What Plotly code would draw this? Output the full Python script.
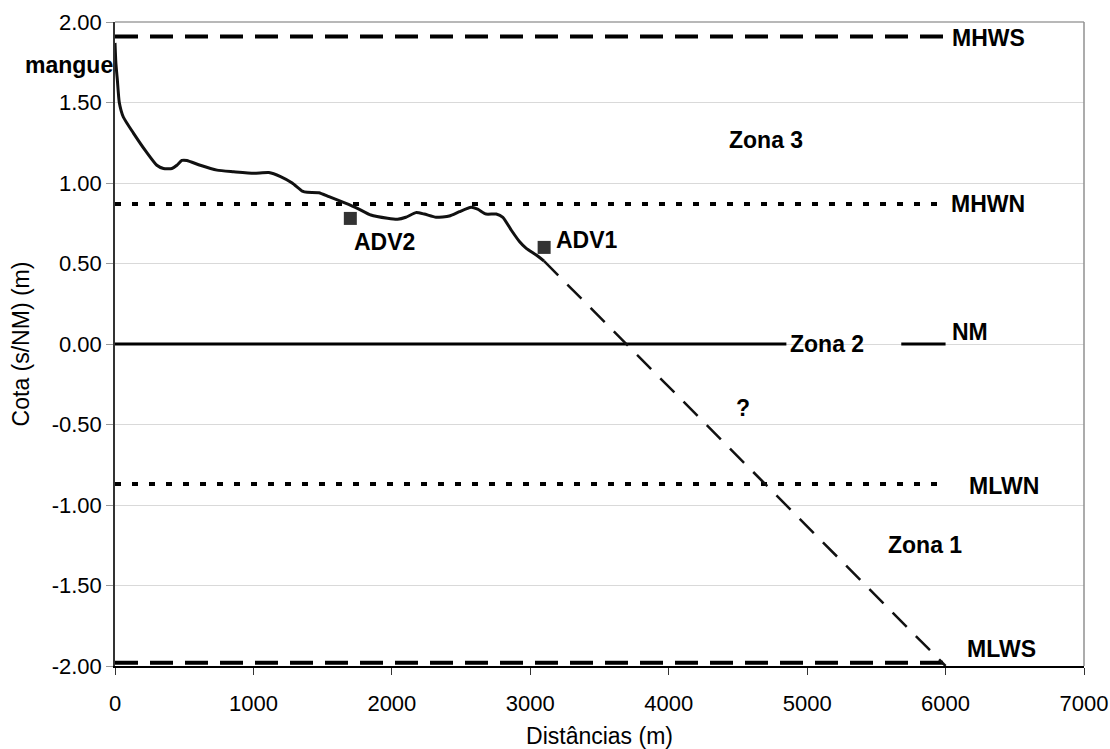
import plotly.graph_objects as go

# ---- data ----
profile_x = [0, 6, 17, 31, 60, 133, 229, 302, 350, 411, 447, 483, 519, 616, 737, 857,
             1002, 1111, 1196, 1280, 1353, 1389, 1473, 1546, 1655, 1751, 1848, 1969,
             2041, 2101, 2174, 2234, 2319, 2415, 2488, 2572, 2620, 2681, 2754, 2802,
             2862, 2923, 2971, 3043, 3100]
profile_y = [1.87, 1.75, 1.64, 1.50, 1.41, 1.31, 1.19, 1.11, 1.09, 1.09, 1.11, 1.14,
             1.14, 1.11, 1.08, 1.07, 1.06, 1.065, 1.04, 1.00, 0.95, 0.942, 0.94, 0.915,
             0.878, 0.843, 0.801, 0.781, 0.775, 0.787, 0.816, 0.807, 0.787, 0.795, 0.822,
             0.849, 0.837, 0.807, 0.807, 0.787, 0.708, 0.635, 0.594, 0.553, 0.515]

extrap_x = [3100, 6000]
extrap_y = [0.515, -2.0]

level_names = ["MHWS", "MHWN", "NM", "MLWN", "MLWS"]
level_values = [1.91, 0.87, 0.0, -0.87, -1.98]
level_start = 0
level_end = 6000
nm_gap = [4850, 5680]

adv_names = ["ADV2", "ADV1"]
adv_x = [1700, 3100]
adv_y = [0.78, 0.60]

level_label_x = [6310, 6310, 6175, 6420, 6405]
level_label_y = [1.90, 0.87, 0.075, -0.885, -1.895]

zone_names = ["Zona 3", "Zona 2", "Zona 1", "?", "mangue"]
zone_x = [4700, 5140, 5850, 4540, 0]
zone_y = [1.27, 0.0, -1.25, -0.40, 1.733]

adv_label_x = [1710, 3170]
adv_label_y = [0.635, 0.645]

y_ticks = [2.0, 1.5, 1.0, 0.5, 0.0, -0.5, -1.0, -1.5, -2.0]
y_ticktext = ["2.00", "1.50", "1.00", "0.50", "0.00", "-0.50", "-1.00", "-1.50", "-2.00"]
x_ticks = [0, 1000, 2000, 3000, 4000, 5000, 6000, 7000]

FONT = "Arial, Liberation Sans, sans-serif"
FS = 22
FL = 23

fig = go.Figure()

styles = {
    "MHWS": dict(width=4, dash="23px,12px"),
    "MHWN": dict(width=4, dash="6px,11px"),
    "NM": dict(width=3, dash="solid"),
    "MLWN": dict(width=4, dash="6px,11px"),
    "MLWS": dict(width=4, dash="23px,12px"),
}

for name, val in zip(level_names, level_values):
    if name == "NM":
        xs = [level_start, nm_gap[0], None, nm_gap[1], level_end]
        ys = [val, val, None, val, val]
    else:
        xs = [level_start, level_end]
        ys = [val, val]
    fig.add_trace(go.Scatter(x=xs, y=ys, mode="lines", name=name,
                             line=dict(color="black", **styles[name]),
                             showlegend=False, hoverinfo="skip"))

fig.add_trace(go.Scatter(x=extrap_x, y=extrap_y, mode="lines",
                         line=dict(color="#111111", width=2.5, dash="20px,13px"),
                         showlegend=False))

fig.add_trace(go.Scatter(x=profile_x, y=profile_y, mode="lines",
                         line=dict(color="#111111", width=3, shape="spline", smoothing=0.5),
                         showlegend=False))

fig.add_trace(go.Scatter(x=adv_x, y=adv_y, mode="markers",
                         marker=dict(symbol="square", size=13, color="#333333"),
                         showlegend=False))

bold = dict(family=FONT, size=FL, color="black")

for name, lx, ly in zip(level_names, level_label_x, level_label_y):
    fig.add_annotation(x=lx, y=ly, text="<b>%s</b>" % name, showarrow=False,
                       xanchor="center", yanchor="middle", font=bold)

for name, zx, zy in zip(zone_names, zone_x, zone_y):
    anchor = "right" if name == "mangue" else "center"
    fig.add_annotation(x=zx, y=zy, text="<b>%s</b>" % name, showarrow=False,
                       xanchor=anchor, yanchor="middle", font=bold)

for name, lx, ly in zip(adv_names, adv_label_x, adv_label_y):
    fig.add_annotation(x=lx, y=ly, text="<b>%s</b>" % name, showarrow=False,
                       xanchor="left", yanchor="middle", font=bold)

# frame (top and right, gray)
fig.add_shape(type="line", xref="paper", yref="paper", x0=0, x1=1, y0=1, y1=1,
              line=dict(color="#a0a0a0", width=1.5))
fig.add_shape(type="line", xref="paper", yref="paper", x0=1, x1=1, y0=0, y1=1,
              line=dict(color="#909090", width=1.5))

fig.update_layout(
    width=1110, height=749,
    margin=dict(l=115, r=26, t=22, b=83, autoexpand=False),
    plot_bgcolor="white", paper_bgcolor="white",
    font=dict(family=FONT, size=FS, color="black"),
    showlegend=False,
)

fig.update_xaxes(range=[0, 7000], tickvals=x_ticks, ticks="outside", ticklen=7,
                 tickcolor="#333333", showline=True, linecolor="black", linewidth=1.5,
                 showgrid=False, zeroline=False, ticklabelstandoff=10, automargin=False,
                 tickfont=dict(family=FONT, size=FS),
                 title=dict(text="Distâncias (m)", font=dict(family=FONT, size=FL), standoff=14))

fig.update_yaxes(range=[-2, 2], tickvals=y_ticks, ticktext=y_ticktext, ticks="outside",
                 ticklen=7, tickcolor="#999999", showline=True, linecolor="#333333",
                 linewidth=1.5, showgrid=True, gridcolor="#d9d9d9", gridwidth=1.2,
                 zeroline=False, automargin=False, tickfont=dict(family=FONT, size=FS),
                 title=dict(text="Cota (s/NM) (m)", font=dict(family=FONT, size=FL), standoff=16))

fig.write_html("out.html")
